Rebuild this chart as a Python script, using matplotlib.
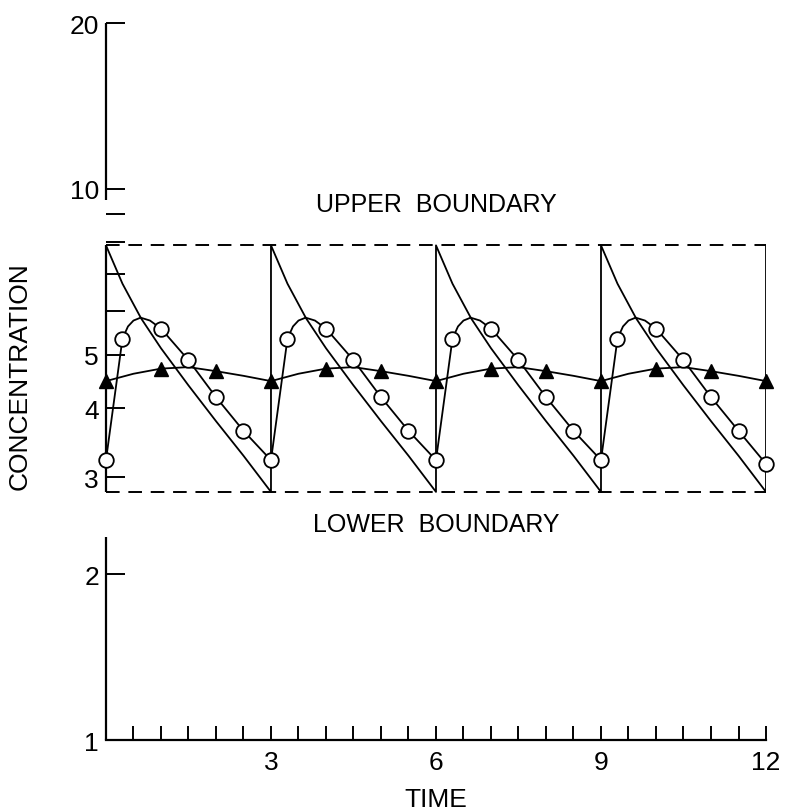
import matplotlib
matplotlib.use("Agg")
import matplotlib.pyplot as plt
from matplotlib.ticker import FixedLocator, FixedFormatter, NullFormatter

plt.rcParams["font.family"] = ["Liberation Sans", "DejaVu Sans"]
plt.rcParams["font.size"] = 19
plt.rcParams["lines.linewidth"] = 1.2

# boundaries of the therapeutic range
upper = 7.9
lower = 2.82

# IV bolus every 3 h (plain line, jumps back up at each dose)
iv_time = [0, 0.3, 0.64, 1.0, 1.5, 2.0, 2.5, 3,
           3, 3.3, 3.64, 4.0, 4.5, 5.0, 5.5, 6,
           6, 6.3, 6.64, 7.0, 7.5, 8.0, 8.5, 9,
           9, 9.3, 9.64, 10.0, 10.5, 11.0, 11.5, 12,
           12]
iv_conc = [7.9, 6.73, 5.82, 5.14, 4.40, 3.79, 3.28, 2.82,
           7.9, 6.73, 5.82, 5.14, 4.40, 3.79, 3.28, 2.82,
           7.9, 6.73, 5.82, 5.14, 4.40, 3.79, 3.28, 2.82,
           7.9, 6.73, 5.82, 5.14, 4.40, 3.79, 3.28, 2.82,
           7.9]

# oral dose every 3 h (open circles)
oral_line_time = [0, 0.3, 0.4, 0.5, 0.63, 0.8, 1.0, 1.5, 2.0, 2.5,
                  3, 3.3, 3.4, 3.5, 3.63, 3.8, 4.0, 4.5, 5.0, 5.5,
                  6, 6.3, 6.4, 6.5, 6.63, 6.8, 7.0, 7.5, 8.0, 8.5,
                  9, 9.3, 9.4, 9.5, 9.63, 9.8, 10.0, 10.5, 11.0, 11.5,
                  12]
oral_line_conc = [3.22, 5.35, 5.63, 5.77, 5.84, 5.77, 5.58, 4.89, 4.19, 3.64,
                  3.22, 5.35, 5.63, 5.77, 5.84, 5.77, 5.58, 4.89, 4.19, 3.64,
                  3.22, 5.35, 5.63, 5.77, 5.84, 5.77, 5.58, 4.89, 4.19, 3.64,
                  3.22, 5.35, 5.63, 5.77, 5.84, 5.77, 5.58, 4.89, 4.19, 3.64,
                  3.17]
oral_time = [0, 0.3, 1, 1.5, 2, 2.5,
             3, 3.3, 4, 4.5, 5, 5.5,
             6, 6.3, 7, 7.5, 8, 8.5,
             9, 9.3, 10, 10.5, 11, 11.5,
             12]
oral_conc = [3.22, 5.35, 5.58, 4.89, 4.19, 3.64,
             3.22, 5.35, 5.58, 4.89, 4.19, 3.64,
             3.22, 5.35, 5.58, 4.89, 4.19, 3.64,
             3.22, 5.35, 5.58, 4.89, 4.19, 3.64,
             3.17]

# sustained release (filled triangles)
sr_line_time = [0, 0.5, 1, 1.5, 2, 2.5, 3, 3.5, 4, 4.5, 5, 5.5, 6,
                6.5, 7, 7.5, 8, 8.5, 9, 9.5, 10, 10.5, 11, 11.5, 12]
sr_line_conc = [4.48, 4.62, 4.72, 4.75, 4.67, 4.58, 4.48, 4.62, 4.72, 4.75,
                4.67, 4.58, 4.48, 4.62, 4.72, 4.75, 4.67, 4.58, 4.48, 4.62,
                4.72, 4.75, 4.67, 4.58, 4.48]
sr_time = [0, 1, 2, 3, 4, 5, 6, 7, 8, 9, 10, 11, 12]
sr_conc = [4.48, 4.72, 4.67, 4.48, 4.72, 4.67, 4.48, 4.72, 4.67, 4.48,
           4.72, 4.67, 4.48]

x_ticks = [3, 6, 9, 12]
x_minor = [0.5, 1, 1.5, 2, 2.5, 3.5, 4, 4.5, 5, 5.5, 6.5, 7, 7.5, 8, 8.5,
           9.5, 10, 10.5, 11, 11.5]
y_ticks = [1, 2, 3, 4, 5, 10, 20]
y_minor = [6, 7, 8, 9]

# pieces of the broken concentration axis
axis_pieces = [(9.55, 20), (lower, upper), (1, 2.34)]

fig = plt.figure(figsize=(7.85, 8.12), dpi=100)
ax = fig.add_axes([0.135, 0.0874, 0.8408, 0.883])

ax.plot(iv_time, iv_conc, color="black", lw=1.3)
ax.plot(oral_line_time, oral_line_conc, color="black", lw=1.3)
ax.plot(sr_line_time, sr_line_conc, color="black", lw=1.3)
ax.plot(oral_time, oral_conc, "o", ms=10.5, mfc="white", mec="black",
        mew=1.3, clip_on=False, zorder=4)
ax.plot(sr_time, sr_conc, "^", ms=10, color="black", clip_on=False, zorder=4)

ax.hlines([upper, lower], 0, 12, colors="black", lw=1.4,
          linestyles=(0, (7, 4.5)), clip_on=False)

ax.set_yscale("log")
ax.set_xlim(0, 12)
ax.set_ylim(1, 20)

ax.spines["top"].set_visible(False)
ax.spines["right"].set_visible(False)
ax.spines["left"].set_visible(False)
ax.spines["bottom"].set_linewidth(1.6)
for lo, hi in axis_pieces:
    ax.vlines(0, lo, hi, colors="black", lw=1.6, clip_on=False)

ax.xaxis.set_major_locator(FixedLocator(x_ticks))
ax.xaxis.set_minor_locator(FixedLocator(x_minor))
ax.yaxis.set_major_locator(FixedLocator(y_ticks))
ax.yaxis.set_major_formatter(FixedFormatter([str(v) for v in y_ticks]))
ax.yaxis.set_minor_locator(FixedLocator(y_minor))
ax.yaxis.set_minor_formatter(NullFormatter())
ax.tick_params(axis="x", which="both", direction="in", length=10,
               width=1.4, pad=7)
ax.tick_params(axis="y", which="both", direction="in", length=14,
               width=1.4, pad=5)

ax.text(6, 9.39, "UPPER  BOUNDARY", ha="center", va="center", fontsize=18)
ax.text(6, 2.47, "LOWER  BOUNDARY", ha="center", va="center", fontsize=18)

fig.text(20 / 785, 1 - 376 / 812, "CONCENTRATION", rotation=90,
         ha="center", va="center")
fig.text(436 / 785, 1 - 800 / 812, "TIME", ha="center", va="center")

plt.savefig("out.png", dpi=100)
